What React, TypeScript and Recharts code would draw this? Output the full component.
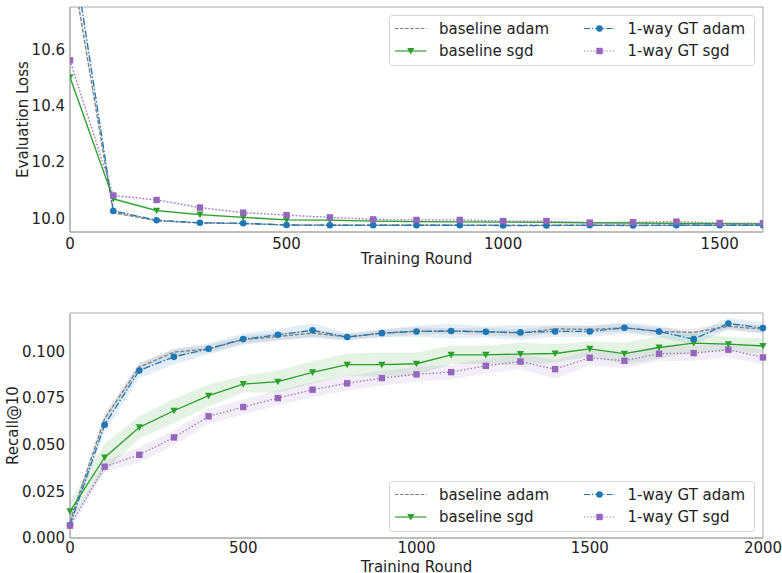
import React from 'react';
import { ComposedChart, Line, Area, XAxis, YAxis, Legend, ReferenceArea } from 'recharts';

// ---------- data ----------
const roundsTop = [0, 100, 200, 300, 400, 500, 600, 700, 800, 900, 1000, 1100, 1200, 1300, 1400, 1500, 1600];
const lossBaselineAdam = [10.94, 10.02, 9.991, 9.983, 9.981, 9.976, 9.975, 9.975, 9.975, 9.975, 9.975, 9.975, 9.975, 9.975, 9.975, 9.975, 9.975];
const lossBaselineSgd = [10.502, 10.069, 10.027, 10.013, 10.003, 9.994, 9.993, 9.99, 9.988, 9.987, 9.986, 9.985, 9.984, 9.983, 9.982, 9.981, 9.98];
const lossGTAdam = [11.02, 10.026, 9.993, 9.984, 9.982, 9.976, 9.975, 9.975, 9.975, 9.975, 9.974, 9.974, 9.975, 9.974, 9.975, 9.975, 9.975];
const lossGTSgd = [10.562, 10.081, 10.065, 10.038, 10.02, 10.011, 10.003, 9.996, 9.994, 9.994, 9.99, 9.99, 9.984, 9.986, 9.988, 9.983, 9.982];
const lossBandBaselineAdam = [0.03, 0.004, 0.002, 0.002, 0.002, 0.002, 0.002, 0.002, 0.002, 0.002, 0.002, 0.002, 0.002, 0.002, 0.002, 0.002, 0.002];
const lossBandBaselineSgd = [0.01, 0.006, 0.005, 0.004, 0.003, 0.003, 0.003, 0.003, 0.003, 0.003, 0.003, 0.003, 0.003, 0.003, 0.003, 0.003, 0.003];
const lossBandGTAdam = [0.03, 0.004, 0.002, 0.002, 0.002, 0.002, 0.002, 0.002, 0.002, 0.002, 0.002, 0.002, 0.002, 0.002, 0.002, 0.002, 0.002];
const lossBandGTSgd = [0.01, 0.005, 0.004, 0.004, 0.003, 0.003, 0.003, 0.003, 0.003, 0.003, 0.003, 0.003, 0.003, 0.003, 0.003, 0.003, 0.003];

const roundsBottom = [0, 100, 200, 300, 400, 500, 600, 700, 800, 900, 1000, 1100, 1200, 1300, 1400, 1500, 1600, 1700, 1800, 1900, 2000];
const recBaselineAdam = [0.009, 0.064, 0.0916, 0.0996, 0.1014, 0.1063, 0.108, 0.1098, 0.1077, 0.1098, 0.1109, 0.1109, 0.1107, 0.1098, 0.1121, 0.1118, 0.1127, 0.1107, 0.1102, 0.1134, 0.112];
const recBaselineSgd = [0.0143, 0.0432, 0.0593, 0.0682, 0.0763, 0.0825, 0.0838, 0.0888, 0.0929, 0.0929, 0.0934, 0.0982, 0.0982, 0.0986, 0.0989, 0.1014, 0.0988, 0.1021, 0.1045, 0.1039, 0.1029];
const recGTAdam = [0.007, 0.0607, 0.0898, 0.0971, 0.1014, 0.1066, 0.1089, 0.1113, 0.1077, 0.1098, 0.1107, 0.1109, 0.1105, 0.1102, 0.1107, 0.1107, 0.1127, 0.1107, 0.1066, 0.115, 0.1125];
const recGTSgd = [0.0066, 0.0382, 0.0446, 0.0539, 0.0652, 0.0702, 0.075, 0.0795, 0.0829, 0.0857, 0.0877, 0.0889, 0.0923, 0.0946, 0.0905, 0.0966, 0.095, 0.0988, 0.0991, 0.1009, 0.0968];
const recBandBaselineAdam = [0.002, 0.003, 0.002, 0.002, 0.002, 0.002, 0.002, 0.002, 0.0015, 0.002, 0.002, 0.0015, 0.002, 0.002, 0.002, 0.002, 0.002, 0.002, 0.002, 0.002, 0.002];
const recBandBaselineSgd = [0.005, 0.0075, 0.006, 0.0065, 0.006, 0.0045, 0.006, 0.006, 0.006, 0.0065, 0.006, 0.005, 0.005, 0.006, 0.005, 0.004, 0.006, 0.006, 0.005, 0.004, 0.004];
const recBandGTAdam = [0.002, 0.004, 0.004, 0.004, 0.003, 0.003, 0.003, 0.004, 0.002, 0.002, 0.003, 0.004, 0.003, 0.004, 0.003, 0.003, 0.003, 0.003, 0.003, 0.003, 0.003];
const recBandGTSgd = [0.002, 0.003, 0.004, 0.004, 0.004, 0.004, 0.004, 0.004, 0.004, 0.004, 0.004, 0.004, 0.004, 0.004, 0.005, 0.004, 0.004, 0.004, 0.004, 0.004, 0.004];

const topYTicks = [10.0, 10.2, 10.4, 10.6];
const topXTicks = [0, 500, 1000, 1500];
const bottomYTicks = [0, 0.025, 0.05, 0.075, 0.1];
const bottomXTicks = [0, 500, 1000, 1500, 2000];
const topXDomain = [0, 1600];
const topYDomain = [9.951, 10.752];
const bottomXDomain = [0, 2000];
const bottomYDomain = [0, 0.1206];

const seriesNames = ['baseline adam', 'baseline sgd', '1-way GT adam', '1-way GT sgd'];

// ---------- styles ----------
const GRAY = '#7f7f7f';
const GREEN = '#2ca02c';
const BLUE = '#1f77b4';
const PURPLE = '#9467bd';
const FONT = 'DejaVu Sans';
const SPINE = '#a8a8a8';

const build = (rounds: number[], a: number[], b: number[], c: number[], d: number[], ba: number[], bb: number[], bc: number[], bd: number[]) =>
  rounds.map((r, i) => ({
    round: r,
    ga: a[i], gs: b[i], ta: c[i], ts: d[i],
    gaBand: [a[i] - ba[i], a[i] + ba[i]],
    gsBand: [b[i] - bb[i], b[i] + bb[i]],
    taBand: [c[i] - bc[i], c[i] + bc[i]],
    tsBand: [d[i] - bd[i], d[i] + bd[i]],
  }));

const topData = build(roundsTop, lossBaselineAdam, lossBaselineSgd, lossGTAdam, lossGTSgd, lossBandBaselineAdam, lossBandBaselineSgd, lossBandGTAdam, lossBandGTSgd);
const bottomData = build(roundsBottom, recBaselineAdam, recBaselineSgd, recGTAdam, recGTSgd, recBandBaselineAdam, recBandBaselineSgd, recBandGTAdam, recBandGTSgd);

const circleDot = (p: any) => <circle key={`c${p.index}`} cx={p.cx} cy={p.cy} r={3.3} fill={BLUE} stroke="none" />;
const squareDot = (p: any) => <rect key={`s${p.index}`} x={p.cx - 3.2} y={p.cy - 3.2} width={6.4} height={6.4} fill={PURPLE} stroke="none" />;
const triDot = (p: any) => (
  <polygon key={`t${p.index}`} points={`${p.cx - 3.6},${p.cy - 3} ${p.cx + 3.6},${p.cy - 3} ${p.cx},${p.cy + 3.6}`} fill={GREEN} stroke="none" />
);

const LegendBox = () => {
  const rows = [13.5, 36];
  const c1 = [6, 37.5];
  const c2 = [195, 226];
  const txt = { fontFamily: FONT, fontSize: 15, fill: '#222' } as const;
  return (
    <svg width={366} height={51} style={{ display: 'block' }}>
      <rect x={0.5} y={0.5} width={365} height={50} rx={3} fill="#fff" fillOpacity={0.85} stroke="#d4d4d4" />
      <line x1={c1[0]} x2={c1[1]} y1={rows[0]} y2={rows[0]} stroke={GRAY} strokeWidth={1} strokeDasharray="3.5 1.6" />
      <text x={50} y={rows[0]} dominantBaseline="central" {...txt}>{seriesNames[0]}</text>
      <line x1={c1[0]} x2={c1[1]} y1={rows[1]} y2={rows[1]} stroke={GREEN} strokeWidth={1.2} />
      {triDot({ cx: (c1[0] + c1[1]) / 2, cy: rows[1], index: 'l' })}
      <text x={50} y={rows[1]} dominantBaseline="central" {...txt}>{seriesNames[1]}</text>
      <line x1={c2[0]} x2={c2[1]} y1={rows[0]} y2={rows[0]} stroke={BLUE} strokeWidth={1.1} strokeDasharray="6 2 1.3 2" />
      {circleDot({ cx: (c2[0] + c2[1]) / 2, cy: rows[0], index: 'l' })}
      <text x={238.5} y={rows[0]} dominantBaseline="central" {...txt}>{seriesNames[2]}</text>
      <line x1={c2[0]} x2={c2[1]} y1={rows[1]} y2={rows[1]} stroke={PURPLE} strokeWidth={1.1} strokeDasharray="1.2 2" />
      {squareDot({ cx: (c2[0] + c2[1]) / 2, cy: rows[1], index: 'l' })}
      <text x={238.5} y={rows[1]} dominantBaseline="central" {...txt}>{seriesNames[3]}</text>
    </svg>
  );
};

const tickStyle = { fontFamily: FONT, fontSize: 15, fill: '#222' };

const yLabel = (text: string, bx: number) => (props: any) => {
  const vb = props.viewBox;
  const x = vb.x + bx;
  const y = vb.y + vb.height / 2;
  return (
    <text x={x} y={y} transform={`rotate(-90, ${x}, ${y})`} textAnchor="middle" style={{ fontFamily: FONT, fontSize: 15, fill: '#222' }}>
      {text}
    </text>
  );
};
const xLabel = (text: string, by: number) => (props: any) => {
  const vb = props.viewBox;
  return (
    <text x={vb.x + vb.width / 2} y={vb.y + by} textAnchor="middle" style={{ fontFamily: FONT, fontSize: 15, fill: '#222' }}>
      {text}
    </text>
  );
};

const renderSeries = () => [
  <Area key="aga" dataKey="gaBand" type="linear" stroke="none" fill={GRAY} fillOpacity={0.15} isAnimationActive={false} dot={false} activeDot={false} />,
  <Area key="ags" dataKey="gsBand" type="linear" stroke="none" fill={GREEN} fillOpacity={0.12} isAnimationActive={false} dot={false} activeDot={false} />,
  <Area key="ata" dataKey="taBand" type="linear" stroke="none" fill={BLUE} fillOpacity={0.12} isAnimationActive={false} dot={false} activeDot={false} />,
  <Area key="ats" dataKey="tsBand" type="linear" stroke="none" fill={PURPLE} fillOpacity={0.12} isAnimationActive={false} dot={false} activeDot={false} />,
  <Line key="lga" dataKey="ga" type="linear" stroke={GRAY} strokeWidth={1.3} strokeDasharray="4 1.8" dot={false} activeDot={false} isAnimationActive={false} />,
  <Line key="lgs" dataKey="gs" type="linear" stroke={GREEN} strokeWidth={1.3} dot={triDot} activeDot={false} isAnimationActive={false} />,
  <Line key="lta" dataKey="ta" type="linear" stroke={BLUE} strokeWidth={1.3} strokeDasharray="7 2 1.5 2" dot={circleDot} activeDot={false} isAnimationActive={false} />,
  <Line key="lts" dataKey="ts" type="linear" stroke={PURPLE} strokeWidth={1.3} strokeDasharray="1.3 2.2" dot={squareDot} activeDot={false} isAnimationActive={false} />,
];

export default function App() {
  return (
    <div style={{ position: 'absolute', left: 0, top: 0, width: 782, height: 573, background: '#fff' }}>
      <div style={{ position: 'absolute', left: 0, top: 0 }}>
        <ComposedChart width={782} height={290} data={topData} margin={{ top: 7, right: 19, bottom: 0, left: 0 }}>
          <XAxis dataKey="round" type="number" domain={topXDomain} allowDataOverflow ticks={topXTicks} height={58}
            tick={tickStyle} tickLine={false} tickSize={0} tickMargin={6} axisLine={{ stroke: SPINE }} label={xLabel('Training Round', 32)} />
          <YAxis type="number" domain={topYDomain} allowDataOverflow ticks={topYTicks} width={70}
            tick={tickStyle} tickLine={false} tickSize={0} tickMargin={5} tickFormatter={(v: number) => v.toFixed(1)}
            axisLine={{ stroke: SPINE }} label={yLabel('Evaluation Loss', 28)} />
          {renderSeries()}
          <ReferenceArea x1={topXDomain[0]} x2={topXDomain[1]} y1={topYDomain[0]} y2={topYDomain[1]} fill="none" stroke={SPINE} strokeWidth={1} ifOverflow="visible" />
          <Legend verticalAlign="middle" layout="horizontal" content={() => <LegendBox />}
            wrapperStyle={{ left: 389, top: 15, width: 366, height: 51 }} />
        </ComposedChart>
      </div>
      <div style={{ position: 'absolute', left: 0, top: 290 }}>
        <ComposedChart width={782} height={283} data={bottomData} margin={{ top: 23, right: 19, bottom: 0, left: 0 }}>
          <XAxis dataKey="round" type="number" domain={bottomXDomain} ticks={bottomXTicks} height={35}
            tick={tickStyle} tickLine={false} tickSize={0} tickMargin={4} axisLine={{ stroke: SPINE }} label={xLabel('Training Round', 34)} />
          <YAxis type="number" domain={bottomYDomain} allowDataOverflow ticks={bottomYTicks} width={70}
            tick={tickStyle} tickLine={false} tickSize={0} tickMargin={5} tickFormatter={(v: number) => v.toFixed(3)}
            axisLine={{ stroke: SPINE }} label={yLabel('Recall@10', 18)} />
          {renderSeries()}
          <ReferenceArea x1={bottomXDomain[0]} x2={bottomXDomain[1]} y1={bottomYDomain[0]} y2={bottomYDomain[1]} fill="none" stroke={SPINE} strokeWidth={1} ifOverflow="visible" />
          <Legend verticalAlign="middle" layout="horizontal" content={() => <LegendBox />}
            wrapperStyle={{ left: 389, top: 191, width: 366, height: 51 }} />
        </ComposedChart>
      </div>
    </div>
  );
}
